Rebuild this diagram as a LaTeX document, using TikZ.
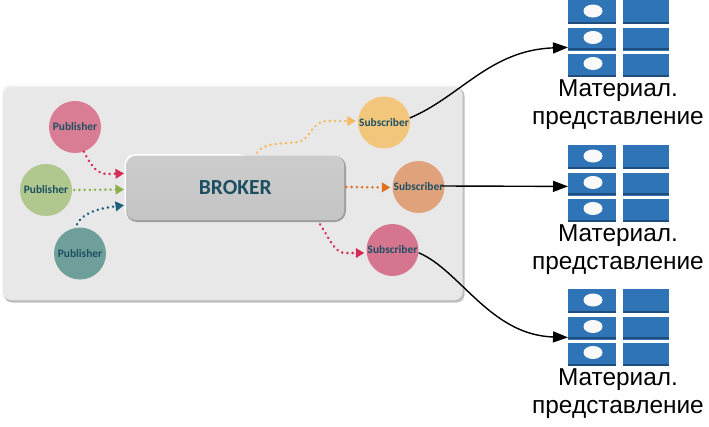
\documentclass[tikz,border=0pt]{standalone}
\usepackage{fontspec}
\setmainfont{Liberation Sans}
\newfontfamily\carl{Carlito}
\usetikzlibrary{arrows.meta,calc,shadings}
\definecolor{txtc}{HTML}{1D4F63}
\definecolor{cellc}{HTML}{2E74B7}
\definecolor{celld}{HTML}{1F4E7C}
\tikzset{
  x=1pt,y=-1pt,
  disc/.style={circle,minimum size=52pt,inner sep=0pt,text=txtc,font=\carl\bfseries\fontsize{11.4}{12}\selectfont},
  flow/.style={draw=#1,line width=2.8pt,line cap=round,dash pattern=on 0.01pt off 5.2pt,shorten >=2pt,
    -{Triangle[length=8.5pt,width=9.5pt,fill=#1]}},
  link/.style={draw=black,line width=1.4pt,-{Triangle[length=15pt,width=11pt]}},
  cell/.style={rectangle,inner sep=0pt,anchor=north west,fill=cellc},
  band/.style={fill=celld},
  caption/.style={align=center,anchor=north,font=\fontsize{24.4}{28}\selectfont,inner sep=0pt}
}
\newcommand{\mattable}[2]{%
  \node[cell,minimum width=48pt,minimum height=24pt] at (568,#2) {};
  \node[cell,minimum width=48pt,minimum height=23pt] (#1) at (568,#2+27.5) {};
  \node[cell,minimum width=48pt,minimum height=23pt] at (568,#2+54) {};
  \node[cell,minimum width=46pt,minimum height=24pt] at (623,#2) {};
  \node[cell,minimum width=46pt,minimum height=23pt] at (623,#2+27.5) {};
  \node[cell,minimum width=46pt,minimum height=23pt] at (623,#2+54) {};
  \foreach \yy in {21.5,47.8,74.5}{
    \fill[band] (568,#2+\yy) rectangle (616,#2+\yy+2.6);
    \fill[band] (623,#2+\yy) rectangle (669,#2+\yy+2.6);
  }
  \foreach \yy in {11,37.5,63.5}{
    \fill[white!95!gray] (593,#2+\yy) ellipse [x radius=9.5pt,y radius=6.5pt];
  }
  \node[caption] at (618,#2+79.5) {Материал.\\представление};
}
\begin{document}
\begin{tikzpicture}
\useasboundingbox (0,0) rectangle (709,426);
\fill[white] (0,0) rectangle (709,426);
% panel
\fill[black!4,rounded corners=8pt] (2,85) rectangle (463,300);
\fill[black!25,rounded corners=8pt] (4,88) rectangle (464.5,302.5);
\fill[black!9,rounded corners=8pt] (3,87) rectangle (462.5,300);
% broker
\fill[white,rounded corners=11pt] (124.5,154) rectangle (250,221);
\fill[black!38,rounded corners=11pt] (126,156) rectangle (346,222);
\node[rectangle,rounded corners=10pt,minimum width=218pt,minimum height=64.5pt,inner sep=0pt,anchor=north west,
  top color=black!20,bottom color=black!23,text=txtc,font=\carl\bfseries\fontsize{21.5}{22}\selectfont] (broker) at (126,155.5) {BROKER};
% discs
\node[disc,fill={rgb,255:red,216;green,125;blue,147}] (p1) at (75,127) {Publisher};
\node[disc,fill={rgb,255:red,176;green,199;blue,141}] (p2) at (46,190) {Publisher};
\node[disc,fill={rgb,255:red,111;green,159;blue,154}] (p3) at (80,253.5) {Publisher};
\node[disc,fill={rgb,255:red,242;green,199;blue,124}] (s1) at (384,122.5) {Subscriber};
\node[disc,fill={rgb,255:red,223;green,162;blue,123}] (s2) at (418.5,187) {Subscriber};
\node[disc,fill={rgb,255:red,214;green,117;blue,143}] (s3) at (392.5,250) {Subscriber};
% dotted flows
\definecolor{fa}{HTML}{D62B55}\definecolor{fb}{HTML}{8CB04A}\definecolor{fc}{HTML}{1F5F7E}
\definecolor{fd}{HTML}{F5B95F}\definecolor{fe}{HTML}{E07020}
\draw[flow=fa] (p1.-70) .. controls (92,168) and (98,174) .. (108,174) -- ($(broker.west)+(0,-14.5)$);
\draw[flow=fb] ($(p2.east)+(2,0)$) -- ($(broker.west)+(0,1.5)$);
\draw[flow=fc] ($(p3.north)+(-3,-3)$) .. controls (82,214) and (95,209) .. ($(broker.west)+(0,17)$);
\draw[flow=fd] ($(broker.north)+(22,-3)$) .. controls (264,142) and (285,144) .. (298,142)
  .. controls (312,139) and (310,121) .. (328,121) -- ($(s1.west)+(0,-1.5)$);
\draw[flow=fe] ($(broker.east)+(2,-1)$) -- ($(s2.west)+(0,0.5)$);
\draw[flow=fa] ($(broker.south)+(85,4)$) .. controls (330,240) and (335,253) .. (345,253) -- ($(s3.west)+(0,3)$);
% tables
\mattable{t1}{0}
\mattable{t2}{145}
\mattable{t3}{289}
% links
\draw[link] (s1.10) .. controls (460,97) and (490,50) .. ($(t1.south west)+(0,-3.5)$);
\draw[link] ($(s2.east)+(-3,-1)$) -- ($(t2.south west)+(0,-9.5)$);
\draw[link] (s3.-6) .. controls (460,270) and (490,335) .. ($(t3.south west)+(0,-2.5)$);
\end{tikzpicture}
\end{document}
